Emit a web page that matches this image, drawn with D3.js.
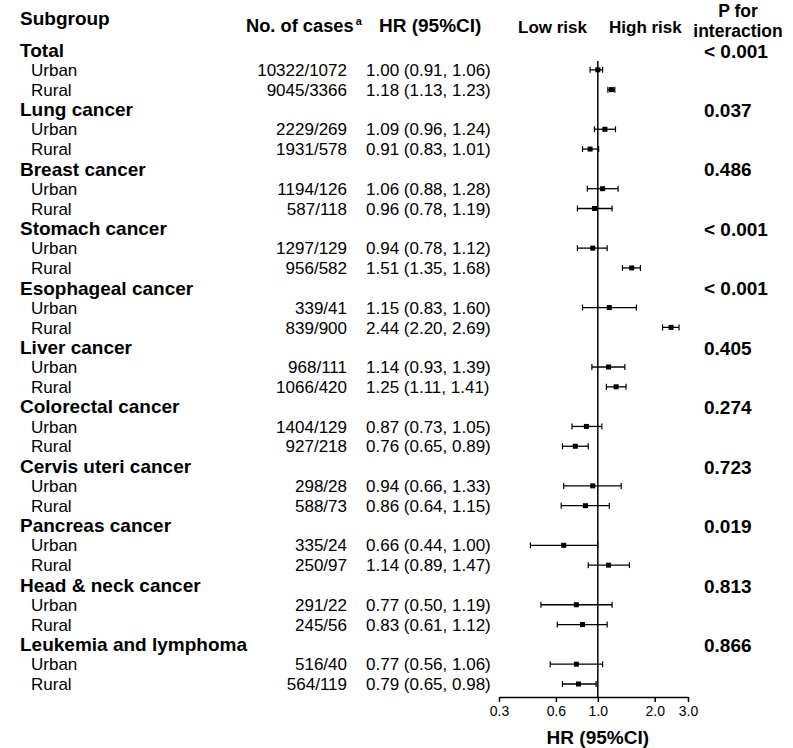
<!DOCTYPE html>
<html>
<head>
<meta charset="utf-8">
<script src="https://cdn.jsdelivr.net/npm/d3@7"></script>
<style>
  html, body { margin: 0; padding: 0; background: #fff; }
  svg { display: block; font-family: "Liberation Sans", Arial, Helvetica, sans-serif; }
</style>
</head>
<body>
<svg id="chart" width="793" height="748"></svg>
<script>
// ---------- data ----------
const groupNames = ["Total", "Lung cancer", "Breast cancer", "Stomach cancer", "Esophageal cancer",
  "Liver cancer", "Colorectal cancer", "Cervis uteri cancer", "Pancreas cancer",
  "Head & neck cancer", "Leukemia and lymphoma"];
const pInteraction = ["< 0.001", "0.037", "0.486", "< 0.001", "< 0.001", "0.405", "0.274",
  "0.723", "0.019", "0.813", "0.866"];
const areaNames = ["Urban", "Rural"];
const urbanCases = ["10322/1072", "2229/269", "1194/126", "1297/129", "339/41", "968/111",
  "1404/129", "298/28", "335/24", "291/22", "516/40"];
const ruralCases = ["9045/3366", "1931/578", "587/118", "956/582", "839/900", "1066/420",
  "927/218", "588/73", "250/97", "245/56", "564/119"];
const urbanHR = [1.00, 1.09, 1.06, 0.94, 1.15, 1.14, 0.87, 0.94, 0.66, 0.77, 0.77];
const urbanLow = [0.91, 0.96, 0.88, 0.78, 0.83, 0.93, 0.73, 0.66, 0.44, 0.50, 0.56];
const urbanHigh = [1.06, 1.24, 1.28, 1.12, 1.60, 1.39, 1.05, 1.33, 1.00, 1.19, 1.06];
const ruralHR = [1.18, 0.91, 0.96, 1.51, 2.44, 1.25, 0.76, 0.86, 1.14, 0.83, 0.79];
const ruralLow = [1.13, 0.83, 0.78, 1.35, 2.20, 1.11, 0.65, 0.64, 0.89, 0.61, 0.65];
const ruralHigh = [1.23, 1.01, 1.19, 1.68, 2.69, 1.41, 0.89, 1.15, 1.47, 1.12, 0.98];
const tickValues = [0.3, 0.6, 1.0, 2.0, 3.0];
const tickLabels = ["0.3", "0.6", "1.0", "2.0", "3.0"];

// ---------- build rows ----------
const fmt = d3.format(".2f");
const rows = [];
groupNames.forEach((g, i) => {
  rows.push({type: "group", label: g, p: pInteraction[i]});
  rows.push({type: "sub", label: areaNames[0], cases: urbanCases[i], hr: urbanHR[i], lo: urbanLow[i], hi: urbanHigh[i]});
  rows.push({type: "sub", label: areaNames[1], cases: ruralCases[i], hr: ruralHR[i], lo: ruralLow[i], hi: ruralHigh[i]});
});

const svg = d3.select("#chart");
svg.append("rect").attr("width", 793).attr("height", 748).attr("fill", "#fff");

const y = d3.scalePoint().domain(d3.range(rows.length)).range([50, 684]);
const x = d3.scaleLog().domain([0.3, 3]).range([499, 688]);
const axisY = 697;

// ---------- headers ----------
const hdr = svg.append("g").attr("font-weight", "bold").attr("fill", "#000");
hdr.append("text").attr("x", 20).attr("y", 25).attr("font-size", 19).text("Subgroup");
const noc = hdr.append("text").attr("x", 246).attr("y", 32).attr("font-size", 18.3);
noc.append("tspan").text("No. of cases");
noc.append("tspan").attr("font-size", 11).attr("dx", 2).attr("dy", -7).text("a");
hdr.append("text").attr("x", 379).attr("y", 32).attr("font-size", 19).text("HR (95%CI)");
hdr.append("text").attr("x", 518).attr("y", 33).attr("font-size", 17).text("Low risk");
hdr.append("text").attr("x", 609).attr("y", 33).attr("font-size", 17).text("High risk");
hdr.append("text").attr("x", 738).attr("y", 16.5).attr("font-size", 17.5).attr("text-anchor", "middle").text("P for");
hdr.append("text").attr("x", 738).attr("y", 36.5).attr("font-size", 17.5).attr("text-anchor", "middle").text("interaction");

// ---------- table text ----------
const rowG = svg.append("g").selectAll("g").data(rows).join("g")
  .attr("transform", (d, i) => `translate(0,${y(i)})`);

rowG.filter(d => d.type === "group").append("text")
  .attr("x", 20).attr("dy", "0.36em").attr("font-size", 19).attr("font-weight", "bold")
  .text(d => d.label);
rowG.filter(d => d.type === "group").append("text")
  .attr("x", 704).attr("dy", "0.4em").attr("font-size", 19).attr("font-weight", "bold")
  .text(d => d.p);

const sub = rowG.filter(d => d.type === "sub");
sub.append("text").attr("x", 31).attr("dy", "0.36em").attr("font-size", 17).text(d => d.label);
sub.append("text").attr("x", 347).attr("dy", "0.36em").attr("font-size", 17)
  .attr("text-anchor", "end").text(d => d.cases);
sub.append("text").attr("x", 366).attr("dy", "0.36em").attr("font-size", 17)
  .text(d => `${fmt(d.hr)} (${fmt(d.lo)}, ${fmt(d.hi)})`);

// ---------- forest ----------
svg.append("line").attr("x1", x(1)).attr("x2", x(1)).attr("y1", 61).attr("y2", axisY)
  .attr("stroke", "#000").attr("stroke-width", 1.5);

sub.append("line").attr("x1", d => x(d.lo)).attr("x2", d => x(d.hi))
  .attr("stroke", "#000").attr("stroke-width", 1.3);
sub.append("line").attr("x1", d => x(d.lo)).attr("x2", d => x(d.lo)).attr("y1", -3).attr("y2", 3)
  .attr("stroke", "#000").attr("stroke-width", 1.2);
sub.append("line").attr("x1", d => x(d.hi)).attr("x2", d => x(d.hi)).attr("y1", -3).attr("y2", 3)
  .attr("stroke", "#000").attr("stroke-width", 1.2);
sub.append("rect").attr("x", d => x(d.hr) - 2.5).attr("y", -2.5).attr("width", 5).attr("height", 5)
  .attr("fill", "#000");

// ---------- axis ----------
const axis = d3.axisBottom(x).tickValues(tickValues)
  .tickFormat((d, i) => tickLabels[i]).tickSize(5).tickSizeOuter(0).tickPadding(4);
const ag = svg.append("g").attr("transform", `translate(0,${axisY})`).call(axis);
ag.select(".domain").attr("stroke", "#000").attr("stroke-width", 1.5);
ag.selectAll(".tick line").attr("stroke", "#000").attr("stroke-width", 1.5);
ag.selectAll(".tick text").attr("font-size", 14).attr("fill", "#000")
  .attr("font-family", "'Liberation Sans', Arial, sans-serif");

svg.append("text").attr("x", x(1)).attr("y", 744).attr("text-anchor", "middle")
  .attr("font-size", 19).attr("font-weight", "bold").text("HR (95%CI)");
</script>
</body>
</html>
